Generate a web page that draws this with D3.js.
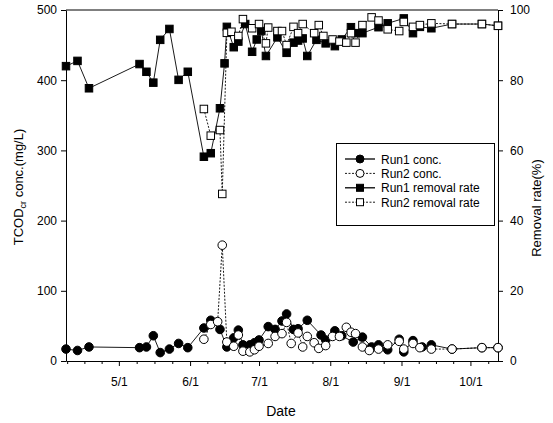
<!DOCTYPE html>
<html>
<head>
<meta charset="utf-8">
<script src="https://cdn.jsdelivr.net/npm/d3@7"></script>
<style>
  body { margin: 0; background: #fff; }
  svg { display: block; }
  text { font-family: "Liberation Sans", Arial, sans-serif; fill: #000; }
</style>
</head>
<body>
<svg id="chart" width="553" height="423"></svg>
<script>
// Sampling dates (month-day) and measured values for each series
const run1Conc = [
  ["04-08",17],["04-13",15],["04-18",20],["05-10",19],["05-13",20],["05-16",36],["05-19",12],
  ["05-23",17],["05-27",25],["05-31",19],["06-07",47],["06-10",58],["06-14",45],["06-17",20],
  ["06-20",33],["06-22",44],["06-24",23],["06-27",23],["06-29",26],["07-01",30],["07-05",49],
  ["07-08",45],["07-11",57],["07-13",67],["07-16",45],["07-18",46],["07-22",58],["07-28",37],
  ["07-30",30],["08-03",43],["08-06",36],["08-11",27],["08-15",34],["08-19",20],["08-22",23],
  ["08-26",16],["08-31",31],["09-02",13],["09-06",29],["09-10",20],["09-14",23],["09-23",17],
  ["10-06",19],["10-13",19]
];
const run2Conc = [
  ["06-07",31],["06-10",52],["06-13",56],["06-15",165],["06-17",27],["06-20",21],["06-22",37],
  ["06-24",14],["06-27",13],["06-29",16],["07-01",21],["07-05",25],["07-08",35],["07-11",39],
  ["07-13",55],["07-15",25],["07-18",40],["07-20",20],["07-22",35],["07-25",26],["07-27",18],
  ["07-30",22],["08-02",35],["08-05",35],["08-08",48],["08-10",41],["08-12",39],["08-15",20],
  ["08-18",15],["08-22",17],["08-26",23],["08-31",28],["09-02",17],["09-06",25],["09-09",19],
  ["09-14",17],["09-23",17],["10-06",19],["10-13",19]
];
const run1Rate = [
  ["04-08",84],["04-13",85.5],["04-18",77.7],["05-10",84.6],["05-13",82.4],["05-16",79.3],
  ["05-19",91.5],["05-23",94.6],["05-27",80.1],["05-31",82.4],["06-07",58.2],["06-10",59.2],
  ["06-14",72],["06-16",84.8],["06-17",95.2],["06-20",89.4],["06-22",91],["06-25",96],
  ["06-28",88.1],["06-30",91.6],["07-02",94],["07-04",86.9],["07-09",92.2],["07-13",87.8],
  ["07-16",90.7],["07-18",91.3],["07-20",91.9],["07-22",86.9],["07-26",91.5],["07-30",90.5],
  ["08-03",89.7],["08-06",91.6],["08-10",95.1],["08-12",93.4],["08-15",93.4],["08-22",95.1],
  ["08-26",96.2],["09-02",97.6],["09-06",93.4],["09-09",95.2],["09-14",94.8],["09-23",96],
  ["10-06",96],["10-13",95.5]
];
const run2Rate = [
  ["06-07",71.8],["06-10",64.2],["06-14",65.8],["06-15",47.6],["06-17",93.5],["06-19",93.8],
  ["06-22",92.6],["06-24",97.4],["06-28",94.8],["07-01",96],["07-04",90.5],["07-05",95],
  ["07-09",94],["07-11",94],["07-13",90],["07-16",95.2],["07-18",93.4],["07-20",96],
  ["07-25",93.4],["07-27",95.7],["07-29",92.6],["08-02",91.6],["08-05",91],["08-08",90.7],
  ["08-10",93.4],["08-12",90.7],["08-15",95.7],["08-19",97.9],["08-22",97],["08-26",94.5],
  ["08-31",94],["09-02",96.6],["09-06",95.2],["09-09",95.7],["09-14",96.2],["09-23",96],
  ["10-06",96],["10-13",95.5]
];
const concTicks = [0, 100, 200, 300, 400, 500];
const rateTicks = [0, 20, 40, 60, 80, 100];
const monthTicks = ["05-01","06-01","07-01","08-01","09-01","10-01"];
const legendLabels = ["Run1 conc.", "Run2 conc.", "Run1 removal rate", "Run2 removal rate"];

const YEAR = 2003;
const parse = md => d3.timeParse("%Y-%m-%d")(YEAR + "-" + md);

const svg = d3.select("#chart");
const L = 66, R = 498, T = 10, B = 361;

const x = d3.scaleTime().domain([parse("04-08"), parse("10-13")]).range([L, R]);
const yC = d3.scaleLinear().domain([0, 500]).range([B, T]);
const yR = d3.scaleLinear().domain([0, 100]).range([B, T]);

// Frame: top edge
svg.append("line").attr("x1", L).attr("x2", R).attr("y1", T).attr("y2", T)
  .attr("stroke", "#000").attr("stroke-width", 1);

// Minor date ticks (quarter months)
const minorTicks = [];
for (let m = 3; m <= 9; m++) {
  const a = new Date(YEAR, m, 1), b = new Date(YEAR, m + 1, 1);
  for (let k = 1; k <= 3; k++) minorTicks.push(new Date(+a + (b - a) * k / 4));
}
svg.append("g").attr("transform", `translate(0,${B})`)
  .call(d3.axisBottom(x).tickValues(minorTicks.filter(d => d >= x.domain()[0] && d <= x.domain()[1]))
    .tickSize(3).tickSizeOuter(0).tickFormat(""))
  .call(g => g.select(".domain").remove());

// Bottom axis
svg.append("g").attr("transform", `translate(0,${B})`)
  .call(d3.axisBottom(x).tickValues(monthTicks.map(parse)).tickFormat(d3.timeFormat("%-m/%-d"))
    .tickSize(5).tickSizeOuter(0).tickPadding(11))
  .call(g => g.selectAll("text").attr("font-size", 12).attr("font-family", "Liberation Sans, Arial, sans-serif"));

// Left axis
svg.append("g").attr("transform", `translate(${L},0)`)
  .call(d3.axisLeft(yC).tickValues(concTicks).tickSize(5).tickSizeOuter(0).tickPadding(4))
  .call(g => g.selectAll("text").attr("font-size", 12).attr("font-family", "Liberation Sans, Arial, sans-serif"));

// Right axis
svg.append("g").attr("transform", `translate(${R},0)`)
  .call(d3.axisRight(yR).tickValues(rateTicks).tickSize(5).tickSizeOuter(0).tickPadding(7))
  .call(g => g.selectAll("text").attr("font-size", 12).attr("font-family", "Liberation Sans, Arial, sans-serif"));

// Axis titles
const lt = svg.append("text").attr("transform", "translate(23,187) rotate(-90)")
  .attr("text-anchor", "middle").attr("font-size", 13);
lt.append("tspan").text("TCOD");
lt.append("tspan").attr("font-size", 9).attr("dy", 3).text("cr");
lt.append("tspan").attr("dy", -3).text(" conc.(mg/L)");

svg.append("text").attr("transform", "translate(541,208) rotate(-90)")
  .attr("text-anchor", "middle").attr("font-size", 13).text("Removal rate(%)");

svg.append("text").attr("x", 281).attr("y", 416).attr("text-anchor", "middle")
  .attr("font-size", 14).text("Date");

// Series drawing helpers
function drawLine(data, yScale, dashed) {
  svg.append("path")
    .datum(data)
    .attr("fill", "none").attr("stroke", "#000").attr("stroke-width", 0.9)
    .attr("stroke-dasharray", dashed ? "2,1.5" : null)
    .attr("d", d3.line().x(d => x(parse(d[0]))).y(d => yScale(d[1])));
}
function drawCircles(data, yScale, filled) {
  svg.append("g").selectAll("circle").data(data).join("circle")
    .attr("cx", d => x(parse(d[0]))).attr("cy", d => yScale(d[1])).attr("r", 4.3)
    .attr("fill", filled ? "#000" : "#fff").attr("stroke", "#000").attr("stroke-width", 1);
}
function drawSquares(data, yScale, filled) {
  const s = 7.5;
  svg.append("g").selectAll("rect").data(data).join("rect")
    .attr("x", d => x(parse(d[0])) - s / 2).attr("y", d => yScale(d[1]) - s / 2)
    .attr("width", s).attr("height", s)
    .attr("fill", filled ? "#000" : "#fff").attr("stroke", "#000").attr("stroke-width", 1);
}

drawLine(run1Conc, yC, false);
drawLine(run2Conc, yC, true);
drawLine(run1Rate, yR, false);
drawLine(run2Rate, yR, true);
drawCircles(run1Conc, yC, true);
drawCircles(run2Conc, yC, false);
drawSquares(run1Rate, yR, true);
drawSquares(run2Rate, yR, false);

// Legend
const lg = svg.append("g");
lg.append("rect").attr("x", 336.5).attr("y", 143.5).attr("width", 158).attr("height", 82)
  .attr("fill", "#fff").attr("stroke", "#000").attr("stroke-width", 1);
legendLabels.forEach((label, i) => {
  const cy = 159 + i * 14.4;
  lg.append("line").attr("x1", 345).attr("x2", 375).attr("y1", cy).attr("y2", cy)
    .attr("stroke", "#000").attr("stroke-width", i % 2 ? 0.9 : 1.3)
    .attr("stroke-dasharray", i % 2 ? "2,1.5" : null);
  if (i < 2) {
    lg.append("circle").attr("cx", 360).attr("cy", cy).attr("r", 4)
      .attr("fill", i === 0 ? "#000" : "#fff").attr("stroke", "#000");
  } else {
    lg.append("rect").attr("x", 356.5).attr("y", cy - 3.5).attr("width", 7).attr("height", 7)
      .attr("fill", i === 2 ? "#000" : "#fff").attr("stroke", "#000");
  }
  lg.append("text").attr("x", 381).attr("y", cy + 4.5).attr("font-size", 12).text(label);
});
</script>
</body>
</html>
